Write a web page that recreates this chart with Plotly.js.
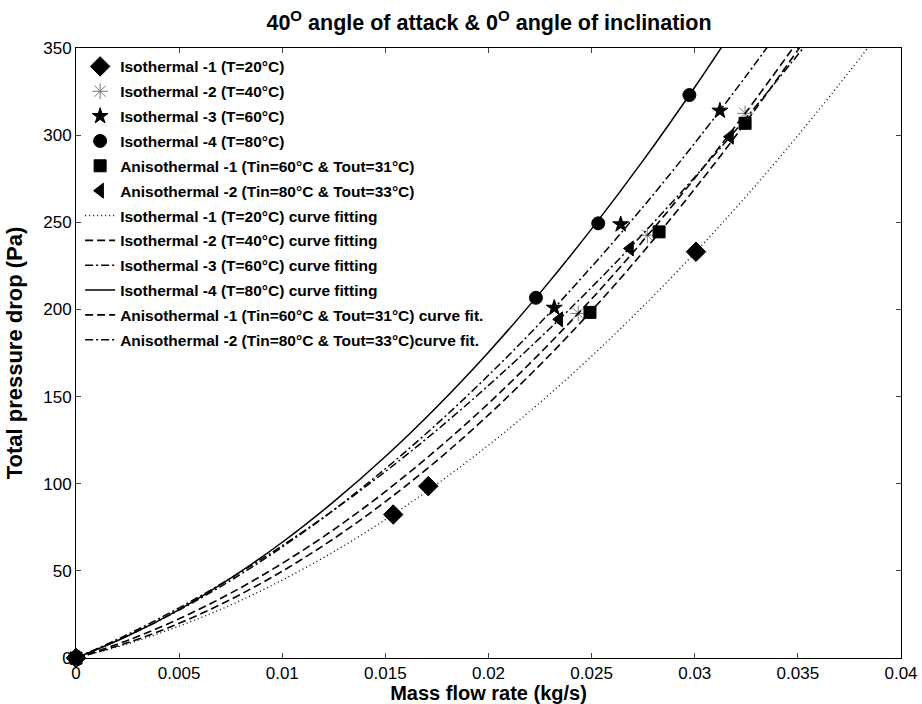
<!DOCTYPE html>
<html>
<head>
<meta charset="utf-8">
<script src="https://cdn.plot.ly/plotly-3.0.1.min.js"></script>
<style>body{margin:0;background:#fff}#chart{width:922px;height:704px}</style>
</head>
<body>
<div id="chart"></div>
<script>
// Measured points (mass flow rate kg/s, total pressure drop Pa)
const iso1X = [0, 0.01538, 0.01708, 0.03006];
const iso1Y = [0, 82.3, 98.6, 233.1];
const iso2X = [0, 0.02435, 0.0277, 0.03244];
const iso2Y = [0, 197.7, 242.6, 312.5];
const iso3X = [0, 0.02319, 0.02641, 0.03122];
const iso3Y = [0, 200.9, 248.8, 314.0];
const iso4X = [0, 0.0223, 0.02532, 0.02974];
const iso4Y = [0, 206.7, 249.4, 323.0];
const aniso1X = [0, 0.02492, 0.02827, 0.03244];
const aniso1Y = [0, 198.3, 244.5, 306.8];
const aniso2X = [0, 0.02343, 0.02686, 0.03171];
const aniso2Y = [0, 194.3, 235.0, 299.1];

// Curve fits
const fitX = [0, 0.0025, 0.005, 0.0075, 0.01, 0.0125, 0.015, 0.0175, 0.02, 0.0225, 0.025, 0.0275, 0.03, 0.0325, 0.035, 0.0375, 0.0385];
const fitIso1Y = [0, 8.1, 18.3, 30.4, 44.7, 61.0, 79.4, 99.8, 122.1, 146.6, 173.2, 201.8, 232.4, 265.0, 299.8, 336.5, 351.8];
const fitIso2X = [0, 0.0025, 0.005, 0.0075, 0.01, 0.0125, 0.015, 0.0175, 0.02, 0.0225, 0.025, 0.0275, 0.03, 0.0325, 0.035];
const fitIso2Y = [0, 10.1, 22.5, 37.2, 54.3, 73.7, 95.5, 119.7, 146.1, 174.9, 206.0, 239.5, 275.3, 313.4, 353.9];
const fitIso3X = [0, 0.0025, 0.005, 0.0075, 0.01, 0.0125, 0.015, 0.0175, 0.02, 0.0225, 0.025, 0.0275, 0.03, 0.0325, 0.034];
const fitIso3Y = [0, 12.7, 27.5, 44.5, 63.7, 85.0, 108.6, 134.3, 162.2, 192.2, 224.5, 258.9, 295.4, 334.1, 358.4];
const fitIso4X = [0, 0.0025, 0.005, 0.0075, 0.01, 0.0125, 0.015, 0.0175, 0.02, 0.0225, 0.025, 0.0275, 0.03, 0.0315];
const fitIso4Y = [0, 12.6, 27.8, 45.8, 66.4, 89.7, 115.6, 144.2, 175.5, 209.5, 246.2, 285.5, 327.5, 354.0];
const fitAniso1X = [0, 0.0025, 0.005, 0.0075, 0.01, 0.0125, 0.015, 0.0175, 0.02, 0.0225, 0.025, 0.0275, 0.03, 0.0325, 0.035, 0.0352];
const fitAniso1Y = [0, 8.7, 19.9, 33.6, 49.8, 68.5, 89.7, 113.3, 139.5, 168.2, 199.3, 233.0, 269.2, 307.7, 348.9, 352.3];
const fitAniso2X = [0, 0.0025, 0.005, 0.0075, 0.01, 0.0125, 0.015, 0.0175, 0.02, 0.0225, 0.025, 0.0275, 0.03, 0.0325, 0.0355];
const fitAniso2Y = [0, 13.5, 28.8, 45.8, 64.5, 84.9, 107.0, 130.8, 156.4, 183.7, 212.7, 243.5, 275.9, 310.0, 353.5];

const names = [
  'Isothermal -1 (T=20°C)',
  'Isothermal -2 (T=40°C)',
  'Isothermal -3 (T=60°C)',
  'Isothermal -4 (T=80°C)',
  'Anisothermal -1 (Tin=60°C & Tout=31°C)',
  'Anisothermal -2 (Tin=80°C & Tout=33°C)',
  'Isothermal -1 (T=20°C) curve fitting',
  'Isothermal -2 (T=40°C) curve fitting',
  'Isothermal -3 (T=60°C) curve fitting',
  'Isothermal -4 (T=80°C) curve fitting',
  'Anisothermal -1 (Tin=60°C & Tout=31°C) curve fit.',
  'Anisothermal -2 (Tin=80°C & Tout=33°C)curve fit.'
];

let g = 0;
function pts(x, y, name, symbol, size, color, lineColor) {
  g++;
  return {x: x, y: y, name: name, legendgroup: 'g' + g, type: 'scatter', mode: 'markers', cliponaxis: false,
    marker: {symbol: symbol, size: size, color: color, line: {color: lineColor || color, width: 1}}};
}
function fit(x, y, name, dash, w) {
  g++;
  return {x: x, y: y, name: name, legendgroup: 'g' + g, type: 'scatter', mode: 'lines',
    line: {color: '#000', width: w, dash: dash, shape: 'spline'}};
}

const data = [
  pts(iso1X, iso1Y, names[0], 'diamond', 15, '#000'),
  pts(iso2X, iso2Y, names[1], 'asterisk-open', 13, '#777', '#777'),
  pts(iso3X, iso3Y, names[2], 'star', 12, '#000'),
  pts(iso4X, iso4Y, names[3], 'circle', 13, '#000'),
  pts(aniso1X, aniso1Y, names[4], 'square', 12, '#000'),
  pts(aniso2X, aniso2Y, names[5], 'triangle-left', 13, '#000'),
  fit(fitX, fitIso1Y, names[6], '1px,3px', 1.3),
  fit(fitIso2X, fitIso2Y, names[7], '8px,4px', 1.6),
  fit(fitIso3X, fitIso3Y, names[8], '8px,3px,2px,3px', 1.5),
  fit(fitIso4X, fitIso4Y, names[9], 'solid', 1.5),
  fit(fitAniso1X, fitAniso1Y, names[10], '8px,4px', 1.6),
  fit(fitAniso2X, fitAniso2Y, names[11], '8px,3px,2px,3px', 1.5)
];

const FF = 'Arial, Liberation Sans, sans-serif';
const tickFont = {family: FF, size: 17, color: '#000'};
const layout = {
  width: 922, height: 704,
  margin: {l: 76, r: 21, t: 48, b: 46},
  paper_bgcolor: '#fff', plot_bgcolor: '#fff',
  font: {family: FF, color: '#000'},
  title: {text: '<b>40<sup>O</sup> angle of attack & 0<sup>O</sup> angle of inclination</b>',
    font: {family: FF, size: 21.5, color: '#000'},
    x: 0.5304, xanchor: 'center', y: 0.968, yanchor: 'middle'},
  xaxis: {range: [0, 0.04], dtick: 0.005, tick0: 0, ticks: 'inside', ticklen: 5,
    showline: true, linecolor: '#000', linewidth: 1, mirror: 'ticks', showgrid: false, zeroline: false,
    tickfont: tickFont, automargin: false,
    title: {text: '<b>Mass flow rate (kg/s)</b>', font: {family: FF, size: 20, color: '#000'}}},
  yaxis: {range: [0, 350], dtick: 50, tick0: 0, ticks: 'inside', ticklen: 5,
    showline: true, linecolor: '#000', linewidth: 1, mirror: 'ticks', showgrid: false, zeroline: false,
    tickfont: tickFont, automargin: false,
    title: {text: '<b>Total pressure drop (Pa)</b>', font: {family: FF, size: 22, color: '#000'}}},
  showlegend: true,
  legend: {x: 0.005, y: 0.997, xanchor: 'left', yanchor: 'top', bgcolor: 'rgba(255,255,255,0)',
    borderwidth: 0, tracegroupgap: 1.7, itemwidth: 30,
    font: {family: FF, size: 15.5, color: '#000', weight: 'bold'}}
};

Plotly.newPlot('chart', data, layout, {displayModeBar: false, staticPlot: true});
</script>
</body>
</html>
